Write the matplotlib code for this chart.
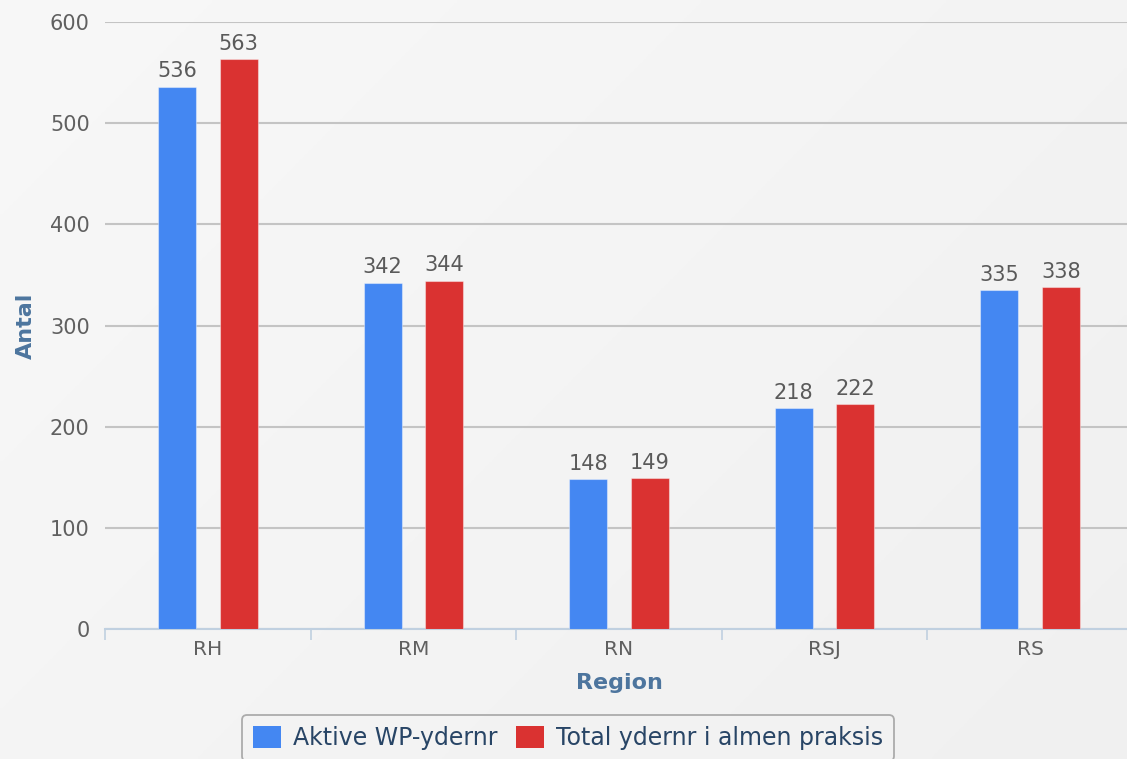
import matplotlib

matplotlib.use("Agg")
import matplotlib.pyplot as plt
import numpy as np

regions = ["RH", "RM", "RN", "RSJ", "RS"]
aktive_wp = [536, 342, 148, 218, 335]
total_almen = [563, 344, 149, 222, 338]
series_names = ["Aktive WP-ydernr", "Total ydernr i almen praksis"]
y_ticks = [0, 100, 200, 300, 400, 500, 600]

W, H = 1127, 759
fig = plt.figure(figsize=(W / 100, H / 100), dpi=100)
fig.patch.set_facecolor("#f1f1f1")

# soft diagonal background gradient
grad = np.linspace(0, 1, 256)
gx, gy = np.meshgrid(grad, grad)
g = 0.972 - 0.03 * (0.6 * gx + 0.4 * gy)
bg = fig.add_axes([0, 0, 1, 1], zorder=-10)
bg.imshow(np.dstack([g, g, g]), aspect="auto", extent=[0, 1, 0, 1])
bg.axis("off")

ax = fig.add_axes([105 / W, 1 - 629 / H, 1028 / W, 607 / H])
ax.patch.set_alpha(0)

x = np.arange(len(regions))
width = 0.185
off = 0.15
colors = ["#4487f2", "#da3231"]
for vals, dx, c in ((aktive_wp, -off, colors[0]), (total_almen, off, colors[1])):
    bars = ax.bar(x + dx, vals, width, color=c, edgecolor=(1, 1, 1, 0.4), linewidth=0.8, zorder=3)
    for b, v in zip(bars, vals):
        ax.annotate(str(v), (b.get_x() + b.get_width() / 2, v), xytext=(0, 4),
                    textcoords="offset points", ha="center", va="bottom",
                    fontsize=15, color="#5a5a5a")

ax.set_xlim(-0.5, len(regions) - 0.5)
ax.set_ylim(0, 600)
ax.set_yticks(y_ticks)
ax.yaxis.grid(True, color="#c4c4c4", linewidth=1.5, zorder=0)
ax.tick_params(axis="y", length=0, labelsize=15, labelcolor="#606060", pad=11)
ax.set_xticks(x, regions)
ax.set_xticks(np.arange(len(regions) + 1) - 0.5, minor=True)
ax.tick_params(axis="x", which="major", length=0, labelsize=14.5, labelcolor="#606060", pad=8)
ax.tick_params(axis="x", which="minor", length=8, color="#c0d0e0", width=1.2)
for side in ("top", "right", "left"):
    ax.spines[side].set_visible(False)
ax.spines["bottom"].set_color("#c0d0e0")
ax.spines["bottom"].set_linewidth(1.5)

ax.set_ylabel("Antal", fontsize=16, fontweight="bold", color="#4d759e", labelpad=10)
ax.set_xlabel("Region", fontsize=16, fontweight="bold", color="#4d759e", labelpad=10)

handles = [plt.Rectangle((0, 0), 1, 1, facecolor=c, edgecolor="none") for c in colors]
leg = fig.legend(handles, series_names, loc="upper center", bbox_to_anchor=(568 / W, 1 - 715 / H),
                 ncol=2, fontsize=17, frameon=True, fancybox=True, handlelength=1.2,
                 handleheight=1.1, handletextpad=0.5, columnspacing=0.8, borderpad=0.45,
                 borderaxespad=0)
leg.get_frame().set_edgecolor("#9a9a9a")
leg.get_frame().set_facecolor("#f3f3f3")
leg.get_frame().set_linewidth(1.3)
for t in leg.get_texts():
    t.set_color("#284566")

fig.savefig("out.png", dpi=100, facecolor=fig.get_facecolor())
